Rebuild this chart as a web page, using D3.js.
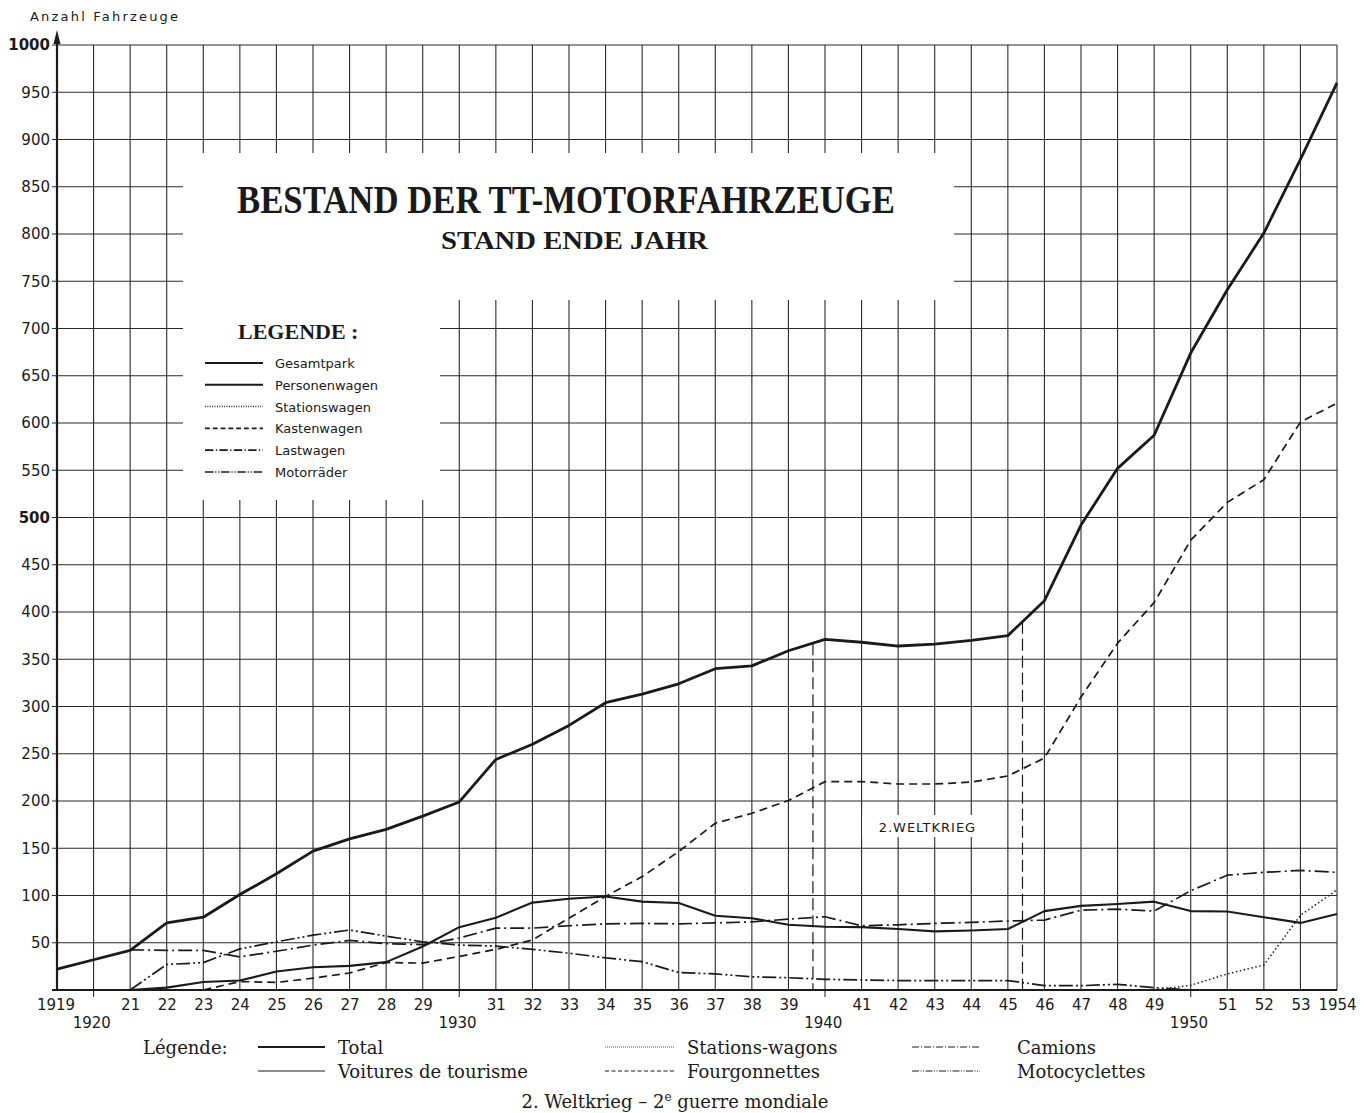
<!DOCTYPE html>
<html lang="de">
<head>
    <meta charset="UTF-8">
    <title>Bestand der TT-Motorfahrzeuge</title>
    <style>
        body {
            margin: 0;
            padding: 0;
            background-color: #ffffff;
        }
        svg {
            display: block;
        }
        .lab {
            font-family: 'DejaVu Sans', sans-serif;
            fill: #1a1a1a;
        }
        .serif {
            font-family: 'Liberation Serif', 'DejaVu Serif', serif;
            fill: #1a1a1a;
        }
        .cm {
            font-family: 'DejaVu Serif', serif;
            fill: #1a1a1a;
        }
    </style>
</head>
<body>
    <svg id="chart" width="1370" height="1113"></svg>
    <script src="https://d3js.org/d3.v7.min.js"></script>
    <script>
        // data (Anzahl Fahrzeuge, end of each year)
        const years = [1919, 1920, 1921, 1922, 1923, 1924, 1925, 1926, 1927, 1928,
                       1929, 1930, 1931, 1932, 1933, 1934, 1935, 1936, 1937, 1938,
                       1939, 1940, 1941, 1942, 1943, 1944, 1945, 1946, 1947, 1948,
                       1949, 1950, 1951, 1952, 1953, 1954];
        const yearLabels = ["1919", "1920", "21", "22", "23", "24", "25", "26", "27", "28",
                            "29", "1930", "31", "32", "33", "34", "35", "36", "37", "38",
                            "39", "1940", "41", "42", "43", "44", "45", "46", "47", "48",
                            "49", "1950", "51", "52", "53", "1954"];
        const yTicks = [50, 100, 150, 200, 250, 300, 350, 400, 450, 500,
                        550, 600, 650, 700, 750, 800, 850, 900, 950, 1000];

        const gesamtpark = [22, 32, 42, 71, 77, 101, 123, 147, 160, 170,
                            184, 199, 244, 260, 280, 304, 313, 324, 340, 343,
                            359, 371, 368, 364, 366, 370, 375, 412, 492, 552,
                            587, 674, 741, 801, 879, 960];
        const personenwagen = [null, null, 0, 2.5, 8.5, 10, 19.5, 24, 25.5, 29.5,
                               46, 66.5, 76.5, 92.5, 96.5, 99, 93.5, 92, 78.5, 76,
                               69, 67, 66.5, 64.5, 62, 63, 64.5, 83.5, 89, 91,
                               93.5, 83.5, 83, 77, 71, 80.5];
        const stationswagen = [null, null, null, null, null, null, null, null, null, null,
                               null, null, null, null, null, null, null, null, null, null,
                               null, null, null, null, null, null, null, null, null, null,
                               0, 5, 17, 26.5, 79, 106];
        const kastenwagen = [null, null, null, null, 0, 9, 8, 12.5, 18, 29,
                             28.5, 35.5, 43, 53, 76, 99, 120, 146.5, 176.5, 187,
                             200.5, 220.5, 220.5, 218, 218, 220, 226.5, 245.5, 310, 367,
                             410, 476, 516, 540, 601, 621];
        const lastwagen = [null, null, 42.5, 42, 42, 35, 41, 47.5, 52.5, 49,
                           48, 55, 65.5, 65.5, 68, 70, 70.5, 70, 71, 72,
                           75, 77.5, 68, 69, 70.5, 71.5, 73, 74, 84.5, 85.5,
                           83.5, 105, 121.5, 124.5, 126.5, 124.5];
        const motorraeder = [null, null, 0, 27, 29, 43.5, 51, 58, 63.5, 57,
                             51, 47.5, 46.5, 43, 39, 34, 30, 18.5, 17, 14,
                             13, 11.3, 10.6, 10, 10, 10, 10, 4.6, 4.6, 6,
                             2.5, 0, null, null, null, null];
        // Kriegsbeginn / Kriegsende
        const warYears = [1939.67, 1945.4];

        const series = [
            {name: "Gesamtpark", fr: "Total", values: gesamtpark, width: 2.8, dash: null},
            {name: "Personenwagen", fr: "Voitures de tourisme", values: personenwagen, width: 2.1, dash: null},
            {name: "Stationswagen", fr: "Stations-wagons", values: stationswagen, width: 1.5, dash: "1.5,2.5"},
            {name: "Kastenwagen", fr: "Fourgonnettes", values: kastenwagen, width: 1.7, dash: "8,5"},
            {name: "Lastwagen", fr: "Camions", values: lastwagen, width: 1.7, dash: "14,4,2,4"},
            {name: "Motorräder", fr: "Motocyclettes", values: motorraeder, width: 1.7, dash: "14,3,2,3,2,3"}
        ];

        const ink = "#1a1a1a";
        const svg = d3.select("#chart");
        const x = d3.scaleLinear().domain([1919, 1954]).range([57, 1337]);
        const y = d3.scaleLinear().domain([0, 1000]).range([990, 45]);

        // grid
        const grid = svg.append("g");
        grid.selectAll("line.v")
            .data(years)
            .enter()
            .append("line")
            .attr("x1", d => x(d)).attr("x2", d => x(d))
            .attr("y1", y(1000))
            .attr("y2", d => d % 10 === 0 ? y(0) + 7 : y(0))
            .attr("stroke", "#2a2a2a")
            .attr("stroke-width", 1.1);
        grid.selectAll("line.h")
            .data(yTicks)
            .enter()
            .append("line")
            .attr("x1", x(1919) - 5).attr("x2", x(1954))
            .attr("y1", d => y(d)).attr("y2", d => y(d))
            .attr("stroke", "#2a2a2a")
            .attr("stroke-width", 1.1);

        // white boxes for title and legend
        svg.append("rect").attr("x", 183).attr("y", 153).attr("width", 771).attr("height", 147).attr("fill", "#ffffff");
        svg.append("rect").attr("x", 183).attr("y", 299).attr("width", 257).attr("height", 201).attr("fill", "#ffffff");

        // axes
        svg.append("line")
            .attr("x1", x(1919)).attr("x2", x(1919))
            .attr("y1", y(0)).attr("y2", 38)
            .attr("stroke", ink).attr("stroke-width", 2.2);
        svg.append("path")
            .attr("d", `M${x(1919)},30 L${x(1919) - 3.5},44 L${x(1919) + 3.5},44 Z`)
            .attr("fill", ink);
        svg.append("line")
            .attr("x1", x(1919) - 5).attr("x2", x(1954))
            .attr("y1", y(0)).attr("y2", y(0))
            .attr("stroke", ink).attr("stroke-width", 2.2);

        const yAxis = svg.append("g")
            .attr("transform", `translate(${x(1919)},0)`)
            .call(d3.axisLeft(y).tickValues(yTicks).tickSize(0).tickPadding(7).tickFormat(d3.format("d")));
        yAxis.select(".domain").remove();
        yAxis.selectAll("text")
            .attr("class", "lab")
            .style("font-size", "15px")
            .style("font-weight", d => (d === 1000 || d === 500) ? "bold" : "normal")
            .attr("fill", ink);

        const xAxis = svg.append("g")
            .attr("transform", `translate(0,${y(0)})`)
            .call(d3.axisBottom(x).tickValues(years).tickSize(0).tickPadding(9)
                .tickFormat((d, i) => yearLabels[i]));
        xAxis.select(".domain").remove();
        xAxis.selectAll("text")
            .attr("class", "lab")
            .style("font-size", "15px")
            .attr("fill", ink)
            .attr("dy", d => (d % 10 === 0 && d !== 1954 && d !== 1919 ? 1.95 : 0.71) + "em")
            .attr("dx", d => {
                if (d === 1920 || d === 1930 || d === 1940 || d === 1950) return "-0.15em";
                if (d === 1919) return "-0.1em";
                return "0";
            });

        svg.append("text").attr("class", "lab")
            .attr("x", 30).attr("y", 21)
            .style("font-size", "13px")
            .style("letter-spacing", "2.2px")
            .text("Anzahl Fahrzeuge");

        // war lines
        const totalAt = t => {
            const i = years.findIndex(d => d > t);
            const f = (t - years[i - 1]) / (years[i] - years[i - 1]);
            return gesamtpark[i - 1] + f * (gesamtpark[i] - gesamtpark[i - 1]);
        };
        svg.selectAll("line.war")
            .data(warYears)
            .enter()
            .append("line")
            .attr("x1", d => x(d)).attr("x2", d => x(d))
            .attr("y1", d => y(totalAt(d))).attr("y2", y(0))
            .attr("stroke", ink)
            .attr("stroke-width", 1.2)
            .attr("stroke-dasharray", "12,5");
        svg.append("rect")
            .attr("x", 862).attr("y", 815).attr("width", 122).attr("height", 22)
            .attr("fill", "#ffffff");
        svg.append("text").attr("class", "lab")
            .attr("x", x(1942.8)).attr("y", 832)
            .attr("text-anchor", "middle")
            .style("font-size", "13px")
            .style("letter-spacing", "1px")
            .text("2.WELTKRIEG");

        // series lines
        const line = d3.line()
            .defined(d => d.v !== null)
            .x(d => x(d.year))
            .y(d => y(d.v));
        svg.append("g")
            .selectAll("path")
            .data(series)
            .enter()
            .append("path")
            .attr("d", s => line(years.map((yr, i) => ({year: yr, v: s.values[i]}))))
            .attr("fill", "none")
            .attr("stroke", ink)
            .attr("stroke-width", s => s.width)
            .attr("stroke-dasharray", s => s.dash)
            .attr("stroke-linejoin", "round");

        // title
        svg.append("text").attr("class", "serif")
            .attr("x", 237).attr("y", 213)
            .attr("textLength", 658).attr("lengthAdjust", "spacingAndGlyphs")
            .style("font-size", "40px").style("font-weight", "bold")
            .text("BESTAND DER TT-MOTORFAHRZEUGE");
        svg.append("text").attr("class", "serif")
            .attr("x", 441).attr("y", 249)
            .attr("textLength", 267).attr("lengthAdjust", "spacingAndGlyphs")
            .style("font-size", "25px").style("font-weight", "bold")
            .text("STAND ENDE JAHR");

        // inner legend
        svg.append("text").attr("class", "serif")
            .attr("x", 238).attr("y", 339)
            .style("font-size", "22px").style("font-weight", "bold")
            .text("LEGENDE :");
        const leg = svg.append("g").selectAll("g")
            .data(series)
            .enter()
            .append("g")
            .attr("transform", (s, i) => `translate(205,${363 + i * 21.8})`);
        leg.append("line")
            .attr("x1", 0).attr("x2", 58)
            .attr("stroke", ink)
            .attr("stroke-width", s => Math.min(s.width, 2.2))
            .attr("stroke-dasharray", s => s.dash ? s.dash.split(",").map(v => v * 0.6).join(",") : null);
        leg.append("text").attr("class", "lab")
            .attr("x", 70).attr("y", 5)
            .style("font-size", "13px")
            .text(s => s.name);

        // bottom legend (French)
        const bottom = svg.append("g");
        bottom.append("text").attr("class", "cm")
            .attr("x", 143).attr("y", 1054)
            .style("font-size", "18px")
            .text("Légende:");
        const cols = [[258, 325, 338], [605, 675, 687], [912, 980, 1017]];
        const bl = bottom.selectAll("g")
            .data(series)
            .enter()
            .append("g")
            .attr("transform", (s, i) => `translate(0,${1047 + (i % 2) * 24})`);
        bl.append("line")
            .attr("x1", (s, i) => cols[Math.floor(i / 2)][0])
            .attr("x2", (s, i) => cols[Math.floor(i / 2)][1])
            .attr("stroke", ink)
            .attr("stroke-width", (s, i) => i === 0 ? 2.2 : 1)
            .attr("stroke-dasharray", s => s.dash ? s.dash.split(",").map(v => v * 0.5).join(",") : null);
        bl.append("text").attr("class", "cm")
            .attr("x", (s, i) => cols[Math.floor(i / 2)][2])
            .attr("y", 7)
            .style("font-size", "18px")
            .text(s => s.fr);
        const war = bottom.append("text").attr("class", "cm")
            .attr("x", 675).attr("y", 1108)
            .attr("text-anchor", "middle")
            .style("font-size", "18px");
        war.append("tspan").text("2. Weltkrieg – 2");
        war.append("tspan").attr("baseline-shift", "super").style("font-size", "12px").text("e");
        war.append("tspan").text(" guerre mondiale");
    </script>
</body>
</html>
